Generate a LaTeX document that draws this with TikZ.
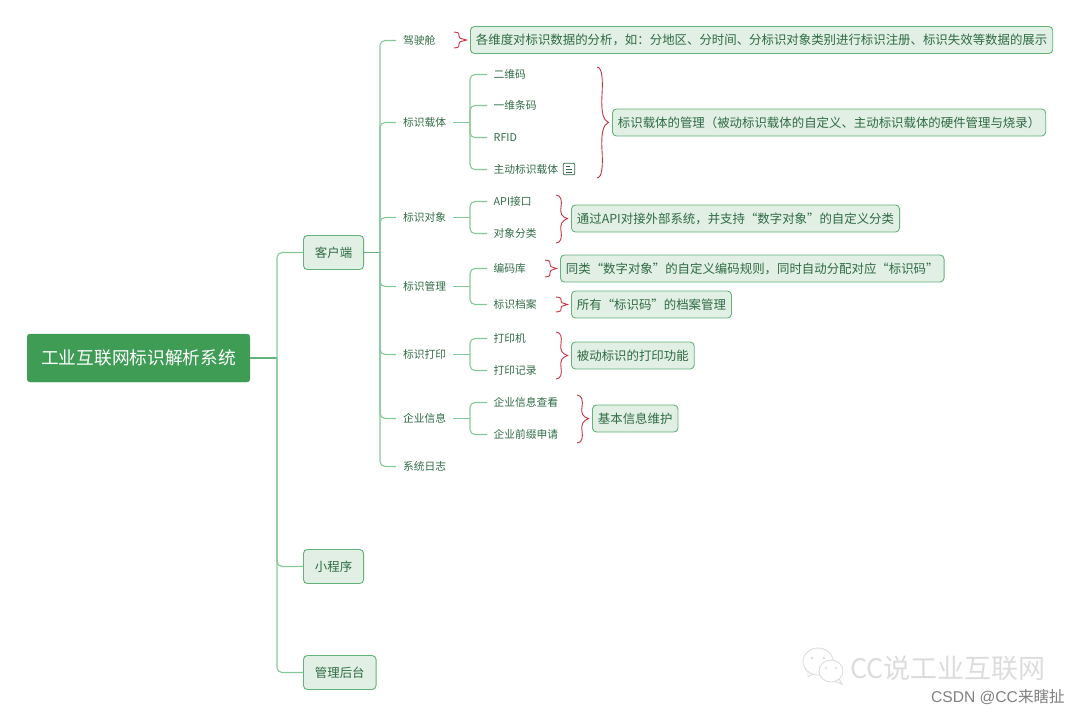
\documentclass[tikz,border=0pt]{standalone}
\usepackage{fontspec}
\setmainfont{Noto Sans CJK SC}
\newfontfamily\csdnfont{Liberation Sans}
\newfontfamily\csdncjk{Noto Sans CJK SC}
\definecolor{rootgreen}{HTML}{3F9C55}
\definecolor{boxfill}{HTML}{E1EFE4}
\definecolor{boxline}{HTML}{62B27A}
\definecolor{linkgreen}{HTML}{86C79A}
\definecolor{textgreen}{HTML}{2F6B44}
\definecolor{bracered}{HTML}{C8323F}
\definecolor{markgray}{HTML}{DCDCDC}
\tikzset{
  rootbox/.style={fill=rootgreen, draw=rootgreen, rounded corners=3pt, text=white, anchor=west,
    font=\fontsize{17.7}{20}\selectfont, minimum height=48pt, inner xsep=14pt, inner ysep=0pt},
  mainbox/.style={fill=boxfill, draw=boxline, line width=0.9pt, rounded corners=4pt, text=textgreen, anchor=west,
    font=\fontsize{12.4}{15}\selectfont, minimum height=34pt, inner xsep=11.5pt, inner ysep=0pt},
  notebox/.style={mainbox, font=\fontsize{12.42}{15}\selectfont, minimum height=27pt, inner xsep=5.5pt},
  leveltwo/.style={text=textgreen, anchor=west, font=\fontsize{10.75}{13}\selectfont, inner xsep=7pt, inner ysep=1pt},
  levelthree/.style={leveltwo, inner xsep=6.5pt},
  link/.style={draw=linkgreen, line width=1.1pt, rounded corners=5pt},
  rootlink/.style={link, draw=boxline},
  bracemark/.style={draw=bracered, line width=0.9pt},
  wmark/.style={draw=markgray, line width=0.9pt, fill=white}
}
% x-left, top, bottom, box
\newcommand{\bracefor}[4]{
  \pgfmathsetmacro{\bq}{(#3-#2)/2}
  \draw[bracemark] (#1,#2) .. controls (#1+5,#2+0.5) and (#1+6,#2+0.2*\bq) .. (#1+5,#2+0.5*\bq)
    .. controls (#1+4,#2+0.8*\bq) and (#1+6,#2+\bq-2) .. ([xshift=-3.5pt]#4.west)
    .. controls (#1+6,#3-\bq+2) and (#1+4,#3-0.8*\bq) .. (#1+5,#3-0.5*\bq)
    .. controls (#1+6,#3-0.2*\bq) and (#1+5,#3-0.5) .. (#1,#3);
}
\begin{document}
\begin{tikzpicture}[x=1pt,y=-1pt]
  \useasboundingbox (0,0) rectangle (1080,716);

  \node[rootbox] (root) at (27,358) {工业互联网标识解析系统};
  \node[mainbox] (client) at (303,252.5) {客户端};
  \node[mainbox] (miniapp) at (303,566.5) {小程序};
  \node[mainbox] (admin) at (303,672.5) {管理后台};

  \coordinate (rootfork) at (277,358);
  \coordinate (clientfork) at (380,252.5);
  \draw[rootlink] (root.east) -- (rootfork);
  \draw[link] (rootfork) |- (client.west);
  \draw[link] (rootfork) |- (miniapp.west);
  \draw[link] (rootfork) |- (admin.west);
  \draw[rootlink] (client.east) -- (clientfork);

  \node[leveltwo] (cockpit) at (396,40.5) {驾驶舱};
  \node[leveltwo] (carrier) at (396,122.5) {标识载体};
  \node[leveltwo] (object) at (396,217.5) {标识对象};
  \node[leveltwo] (manage) at (396,286.5) {标识管理};
  \node[leveltwo] (print) at (396,354.5) {标识打印};
  \node[leveltwo] (company) at (396,418.5) {企业信息};
  \node[leveltwo] (syslog) at (396,466.5) {系统日志};
  \draw[link] (clientfork) |- (cockpit.west);
  \draw[link] (clientfork) |- (carrier.west);
  \draw[link] (clientfork) |- (object.west);
  \draw[link] (clientfork) |- (manage.west);
  \draw[link] (clientfork) |- (print.west);
  \draw[link] (clientfork) |- (company.west);
  \draw[link] (clientfork) |- (syslog.west);

  \node[levelthree] (qrcode) at (487,74.5) {二维码};
  \node[levelthree] (barcode) at (487,105.5) {一维条码};
  \node[levelthree] (rfid) at (487,137.5) {RFID};
  \node[levelthree] (active) at (487,169.5) {主动标识载体};
  \node[draw=textgreen, line width=0.8pt, rounded corners=1pt, minimum size=11.5pt, inner sep=0pt] (activenote) at (569,169) {};
  \draw[textgreen, line width=0.8pt] (566,166) -- (570,166) (566,169) -- (572,169) (566,172) -- (572,172);
  \coordinate (carrierfork) at (470,122.5);
  \draw[link] (carrier.east) -- (carrierfork);
  \draw[link] (carrierfork) |- (qrcode.west);
  \draw[link] (carrierfork) |- (barcode.west);
  \draw[link] (carrierfork) |- (rfid.west);
  \draw[link] (carrierfork) |- (active.west);

  \node[levelthree] (api) at (487,201.5) {API接口};
  \node[levelthree] (classify) at (487,233.5) {对象分类};
  \coordinate (objectfork) at (470,217.5);
  \draw[link] (object.east) -- (objectfork);
  \draw[link] (objectfork) |- (api.west);
  \draw[link] (objectfork) |- (classify.west);

  \node[levelthree] (codelib) at (487,268.5) {编码库};
  \node[levelthree] (archive) at (487,304.5) {标识档案};
  \coordinate (managefork) at (470,286.5);
  \draw[link] (manage.east) -- (managefork);
  \draw[link] (managefork) |- (codelib.west);
  \draw[link] (managefork) |- (archive.west);

  \node[levelthree] (printer) at (487,338.5) {打印机};
  \node[levelthree] (printlog) at (487,370.5) {打印记录};
  \coordinate (printfork) at (470,354.5);
  \draw[link] (print.east) -- (printfork);
  \draw[link] (printfork) |- (printer.west);
  \draw[link] (printfork) |- (printlog.west);

  \node[levelthree] (infoview) at (487,402.5) {企业信息查看};
  \node[levelthree] (prefix) at (487,434.5) {企业前缀申请};
  \coordinate (companyfork) at (470,418.5);
  \draw[link] (company.east) -- (companyfork);
  \draw[link] (companyfork) |- (infoview.west);
  \draw[link] (companyfork) |- (prefix.west);

  \node[notebox] (cockpitnote) at (470,40) {各维度对标识数据的分析，如：分地区、分时间、分标识对象类别进行标识注册、标识失效等数据的展示};
  \node[notebox] (carriernote) at (612,122.5) {标识载体的管理（被动标识载体的自定义、主动标识载体的硬件管理与烧录）};
  \node[notebox] (objectnote) at (571,218.5) {通过API对接外部系统，并支持“数字对象”的自定义分类};
  \node[notebox] (codenote) at (560,268.5) {同类“数字对象”的自定义编码规则，同时自动分配对应“标识码”};
  \node[notebox] (archivenote) at (571,304.5) {所有“标识码”的档案管理};
  \node[notebox] (printnote) at (571,355.5) {被动标识的打印功能};
  \node[notebox] (companynote) at (592,418.5) {基本信息维护};

  \bracefor{454}{32}{48}{cockpitnote}
  \bracefor{597}{67}{178}{carriernote}
  \bracefor{556}{195}{243}{objectnote}
  \bracefor{545}{260}{277}{codenote}
  \bracefor{556}{297}{312}{archivenote}
  \bracefor{556}{332}{379}{printnote}
  \bracefor{577}{395}{443}{companynote}

  \draw[wmark] (808,672) -- (808,677) -- (815,673);
  \draw[wmark] (818,661.5) ellipse (15 and 13.5);
  \fill[markgray] (812,658) circle (1.3) (824,658) circle (1.3);
  \draw[wmark] (839,679) -- (842,684) -- (834,681);
  \draw[wmark] (831,671) ellipse (12 and 11);
  \fill[markgray] (826,668) circle (1.2) (836,668) circle (1.2);
  \node[text=markgray, anchor=west, font=\fontsize{27}{30}\selectfont, inner sep=0pt] (brand) at (850,668) {CC说工业互联网};
  \node[text=gray, anchor=east, font=\fontsize{15.6}{18}\csdnfont, inner sep=0pt] (csdn) at (1065,697) {CSDN @CC{\csdncjk 来瞎扯}};
\end{tikzpicture}
\end{document}
